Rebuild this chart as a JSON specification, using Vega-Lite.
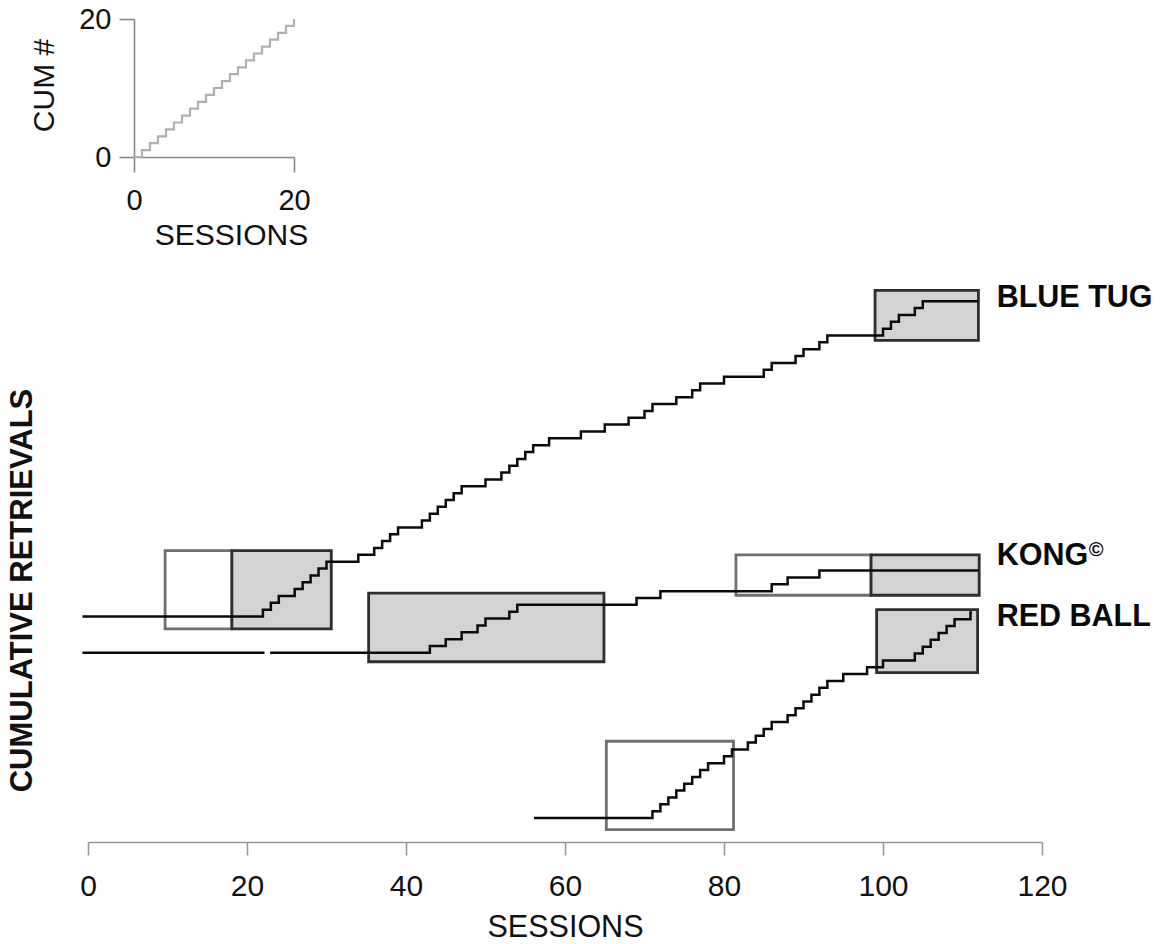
{
  "$schema": "https://vega.github.io/schema/vega-lite/v6.json",
  "padding": {"left": 6, "top": 5, "right": 2, "bottom": 0},
  "bounds": "flush",
  "spacing": 123,
  "config": {
    "view": {"stroke": null},
    "font": "Liberation Sans",
    "axis": {"grid": false, "labelFont": "Liberation Sans", "titleFont": "Liberation Sans", "labelColor": "#111111", "titleColor": "#111111", "titleFontWeight": "normal"}
  },
  "datasets": {
    "inset": [
      {"s": 0, "c": 0}, {"s": 1, "c": 1}, {"s": 2, "c": 2}, {"s": 3, "c": 3}, {"s": 4, "c": 4},
      {"s": 5, "c": 5}, {"s": 6, "c": 6}, {"s": 7, "c": 7}, {"s": 8, "c": 8}, {"s": 9, "c": 9},
      {"s": 10, "c": 10}, {"s": 11, "c": 11}, {"s": 12, "c": 12}, {"s": 13, "c": 13}, {"s": 14, "c": 14},
      {"s": 15, "c": 15}, {"s": 16, "c": 16}, {"s": 17, "c": 17}, {"s": 18, "c": 18}, {"s": 19, "c": 19},
      {"s": 20, "c": 20}
    ],
    "boxes": [
      {"kind": "white", "s": 9.7, "s2": 18.1, "level": 31.1, "level2": 42.5},
      {"kind": "white", "s": 81.5, "s2": 98.5, "level": 36.0, "level2": 41.9},
      {"kind": "white", "s": 65.2, "s2": 81.2, "level": 1.8, "level2": 14.7},
      {"kind": "grey", "s": 18.1, "s2": 30.6, "level": 31.1, "level2": 42.5},
      {"kind": "grey", "s": 35.3, "s2": 64.9, "level": 26.3, "level2": 36.3},
      {"kind": "grey", "s": 98.5, "s2": 112.1, "level": 36.0, "level2": 41.9},
      {"kind": "grey", "s": 99.2, "s2": 111.9, "level": 24.7, "level2": 33.9},
      {"kind": "grey", "s": 99.0, "s2": 112.0, "level": 73.2, "level2": 80.5}
    ],
    "curves": [
      {"seg": "blue", "s": -0.7, "level": 32.9}, {"seg": "blue", "s": 22, "level": 33.9}, {"seg": "blue", "s": 23, "level": 34.9},
      {"seg": "blue", "s": 24, "level": 35.9}, {"seg": "blue", "s": 26, "level": 36.9}, {"seg": "blue", "s": 27, "level": 37.9},
      {"seg": "blue", "s": 28, "level": 38.9}, {"seg": "blue", "s": 29, "level": 39.9}, {"seg": "blue", "s": 30, "level": 40.9},
      {"seg": "blue", "s": 34, "level": 41.9}, {"seg": "blue", "s": 36, "level": 42.9}, {"seg": "blue", "s": 37, "level": 43.9},
      {"seg": "blue", "s": 38, "level": 44.9}, {"seg": "blue", "s": 39, "level": 45.9}, {"seg": "blue", "s": 42, "level": 46.9},
      {"seg": "blue", "s": 43, "level": 47.9}, {"seg": "blue", "s": 44, "level": 48.9}, {"seg": "blue", "s": 45, "level": 49.9},
      {"seg": "blue", "s": 46, "level": 50.9}, {"seg": "blue", "s": 47, "level": 51.9}, {"seg": "blue", "s": 50, "level": 52.9},
      {"seg": "blue", "s": 52, "level": 53.9}, {"seg": "blue", "s": 53, "level": 54.9}, {"seg": "blue", "s": 54, "level": 55.9},
      {"seg": "blue", "s": 55, "level": 56.9}, {"seg": "blue", "s": 56, "level": 57.9}, {"seg": "blue", "s": 58, "level": 58.9},
      {"seg": "blue", "s": 62, "level": 59.9}, {"seg": "blue", "s": 65, "level": 60.9}, {"seg": "blue", "s": 68, "level": 61.9},
      {"seg": "blue", "s": 70, "level": 62.9}, {"seg": "blue", "s": 71, "level": 63.9}, {"seg": "blue", "s": 74, "level": 64.9},
      {"seg": "blue", "s": 76, "level": 65.9}, {"seg": "blue", "s": 77, "level": 66.9}, {"seg": "blue", "s": 80, "level": 67.9},
      {"seg": "blue", "s": 85, "level": 68.9}, {"seg": "blue", "s": 86, "level": 69.9}, {"seg": "blue", "s": 89, "level": 70.9},
      {"seg": "blue", "s": 90, "level": 71.9}, {"seg": "blue", "s": 92, "level": 72.9}, {"seg": "blue", "s": 93, "level": 73.9},
      {"seg": "blue", "s": 100, "level": 74.9}, {"seg": "blue", "s": 101, "level": 75.9}, {"seg": "blue", "s": 102, "level": 76.9},
      {"seg": "blue", "s": 104, "level": 77.9}, {"seg": "blue", "s": 105, "level": 78.9}, {"seg": "blue", "s": 112, "level": 78.9},
      {"seg": "kong-a", "s": -0.7, "level": 27.6}, {"seg": "kong-a", "s": 22.2, "level": 27.6},
      {"seg": "kong-b", "s": 22.9, "level": 27.6}, {"seg": "kong-b", "s": 43, "level": 28.6}, {"seg": "kong-b", "s": 45, "level": 29.6},
      {"seg": "kong-b", "s": 47, "level": 30.6}, {"seg": "kong-b", "s": 49, "level": 31.6}, {"seg": "kong-b", "s": 50, "level": 32.6},
      {"seg": "kong-b", "s": 53, "level": 33.6}, {"seg": "kong-b", "s": 54, "level": 34.6}, {"seg": "kong-b", "s": 69, "level": 35.6},
      {"seg": "kong-b", "s": 72, "level": 36.6}, {"seg": "kong-b", "s": 86, "level": 37.6}, {"seg": "kong-b", "s": 88, "level": 38.6},
      {"seg": "kong-b", "s": 92, "level": 39.6}, {"seg": "kong-b", "s": 112, "level": 39.6},
      {"seg": "red", "s": 56.1, "level": 3.5}, {"seg": "red", "s": 71, "level": 4.5}, {"seg": "red", "s": 72, "level": 5.5},
      {"seg": "red", "s": 73, "level": 6.5}, {"seg": "red", "s": 74, "level": 7.5}, {"seg": "red", "s": 75, "level": 8.5},
      {"seg": "red", "s": 76, "level": 9.5}, {"seg": "red", "s": 77, "level": 10.5}, {"seg": "red", "s": 78, "level": 11.5},
      {"seg": "red", "s": 80, "level": 12.5}, {"seg": "red", "s": 81, "level": 13.5}, {"seg": "red", "s": 83, "level": 14.5},
      {"seg": "red", "s": 84, "level": 15.5}, {"seg": "red", "s": 85, "level": 16.5}, {"seg": "red", "s": 86, "level": 17.5},
      {"seg": "red", "s": 88, "level": 18.5}, {"seg": "red", "s": 89, "level": 19.5}, {"seg": "red", "s": 90, "level": 20.5},
      {"seg": "red", "s": 91, "level": 21.5}, {"seg": "red", "s": 92, "level": 22.5}, {"seg": "red", "s": 93, "level": 23.5},
      {"seg": "red", "s": 95, "level": 24.5}, {"seg": "red", "s": 98, "level": 25.5}, {"seg": "red", "s": 100, "level": 26.5},
      {"seg": "red", "s": 104, "level": 27.5}, {"seg": "red", "s": 105, "level": 28.5}, {"seg": "red", "s": 106, "level": 29.5},
      {"seg": "red", "s": 107, "level": 30.5}, {"seg": "red", "s": 108, "level": 31.5}, {"seg": "red", "s": 109, "level": 32.5},
      {"seg": "red", "s": 111, "level": 33.5}, {"seg": "red", "s": 111.2, "level": 33.5}
    ],
    "labels": [
      {"name": "BLUE TUG", "s": 114.3, "level": 78.1},
      {"name": "KONG", "s": 114.3, "level": 40.4},
      {"name": "RED BALL", "s": 114.3, "level": 31.5}
    ],
    "sup": [
      {"sym": "©", "s": 114.3, "level": 40.4}
    ]
  },
  "vconcat": [
    {
      "width": 206,
      "height": 138,
      "data": {"name": "inset"},
      "mark": {"type": "line", "interpolate": "step-after", "color": "#b0b0b0", "strokeWidth": 2.2},
      "encoding": {
        "x": {
          "field": "s", "type": "quantitative",
          "scale": {"domain": [0, 20], "range": [46, 206], "nice": false, "zero": false},
          "axis": {"values": [0, 20], "tickSize": 15, "domainColor": "#888888", "tickColor": "#888888", "domainWidth": 1.6, "tickWidth": 1.6,
                   "labelFontSize": 29, "labelPadding": 14, "labelFlush": false, "title": "SESSIONS", "titleFontSize": 30,
                   "titleX": 143, "titleY": 78, "titleBaseline": "middle"}
        },
        "y": {
          "field": "c", "type": "quantitative",
          "scale": {"domain": [0, 20], "nice": false},
          "axis": {"values": [0, 20], "tickSize": 15, "offset": -46, "domainColor": "#888888", "tickColor": "#888888", "domainWidth": 1.6, "tickWidth": 1.6,
                   "labelFontSize": 29, "labelPadding": 8, "title": "CUM #", "titleFontSize": 30,
                   "titleX": -90, "titleY": 66, "titleBaseline": "middle"}
        }
      }
    },
    {
      "width": 954,
      "height": 562,
      "encoding": {
        "x": {
          "field": "s", "type": "quantitative",
          "scale": {"domain": [0, 120], "nice": false, "zero": false},
          "axis": {"values": [0, 20, 40, 60, 80, 100, 120], "tickSize": 13, "domainColor": "#999999", "tickColor": "#999999", "domainWidth": 1.6, "tickWidth": 1.6,
                   "labelFontSize": 30, "labelPadding": 16, "labelFlush": false, "title": "SESSIONS", "titleFontSize": 30.5,
                   "titleY": 85, "titleBaseline": "middle"}
        },
        "y": {
          "field": "level", "type": "quantitative",
          "scale": {"domain": [0, 82], "nice": false, "zero": false},
          "axis": {"domain": false, "ticks": false, "labels": false, "title": "CUMULATIVE RETRIEVALS", "titleFontSize": 31, "titleFontWeight": "bold",
                   "titleX": -66, "titleY": 310, "titleBaseline": "middle"}
        }
      },
      "layer": [
        {
          "data": {"name": "boxes"},
          "mark": {"type": "rect", "strokeWidth": 2.8, "opacity": 1},
          "encoding": {
            "x2": {"field": "s2"},
            "y2": {"field": "level2"},
            "fill": {"field": "kind", "type": "nominal", "scale": {"domain": ["white", "grey"], "range": ["#ffffff", "#d3d3d3"]}, "legend": null},
            "stroke": {"field": "kind", "type": "nominal", "scale": {"domain": ["white", "grey"], "range": ["#707070", "#2e2e2e"]}, "legend": null}
          }
        },
        {
          "data": {"name": "curves"},
          "mark": {"type": "line", "interpolate": "step-after", "color": "#0a0a0a", "strokeWidth": 2.5},
          "encoding": {
            "detail": {"field": "seg", "type": "nominal"}
          }
        },
        {
          "data": {"name": "labels"},
          "mark": {"type": "text", "align": "left", "baseline": "alphabetic", "fontSize": 30.5, "fontWeight": "bold", "font": "Liberation Sans", "color": "#0a0a0a"},
          "encoding": {
            "text": {"field": "name", "type": "nominal"}
          }
        },
        {
          "data": {"name": "sup"},
          "mark": {"type": "text", "align": "left", "baseline": "alphabetic", "fontSize": 20, "fontWeight": "bold", "font": "Liberation Sans", "color": "#0a0a0a", "dx": 92, "dy": -9},
          "encoding": {
            "text": {"field": "sym", "type": "nominal"}
          }
        }
      ]
    }
  ]
}
